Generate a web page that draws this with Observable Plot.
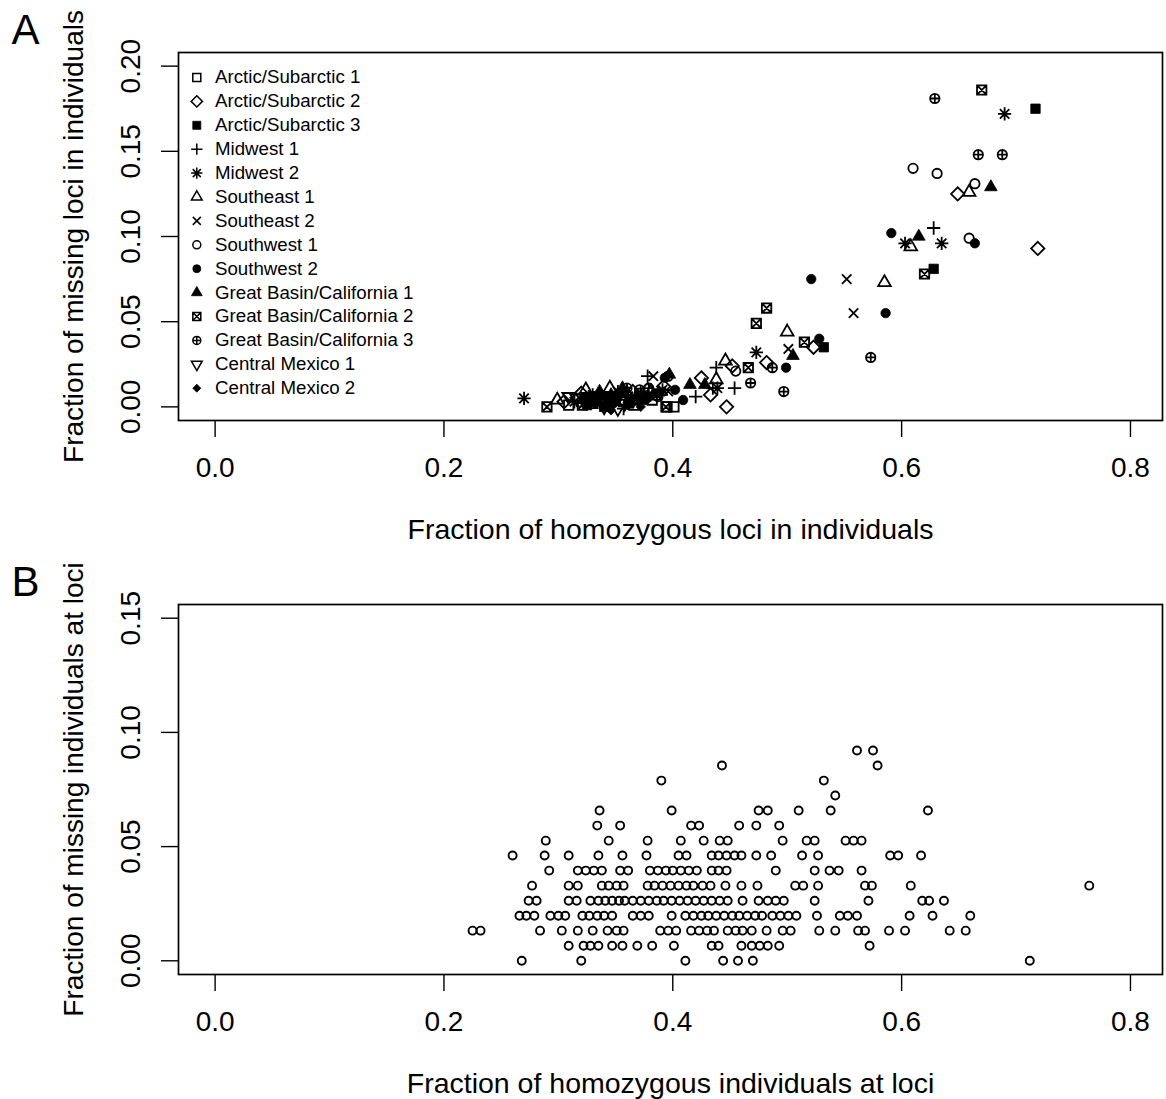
<!DOCTYPE html>
<html><head><meta charset="utf-8">
<script src="https://cdn.jsdelivr.net/npm/d3@7"></script>
<script src="https://cdn.jsdelivr.net/npm/@observablehq/plot@0.6"></script>
<style>
body{margin:0;background:#fff;}
#wrap{position:relative;width:1166px;height:1099px;background:#fff;}
.panel{position:absolute;left:0;}
</style></head><body><div id="wrap"><div id="pa" class="panel" style="top:0"></div><div id="pb" class="panel" style="top:555px"></div></div>
<script>
// ---------- Data ----------
const groupNames = ["Arctic/Subarctic 1","Arctic/Subarctic 2","Arctic/Subarctic 3","Midwest 1","Midwest 2","Southeast 1","Southeast 2","Southwest 1","Southwest 2","Great Basin/California 1","Great Basin/California 2","Great Basin/California 3","Central Mexico 1","Central Mexico 2"];
const arctic1 = [[0.395,0.000],[0.401,0.000],[0.309,0.001],[0.371,0.008],[0.330,0.002],[0.345,0.006],[0.357,0.003],[0.382,0.004],[0.318,0.005],[0.366,0.001]];
const arctic2 = [[0.649,0.125],[0.719,0.093],[0.523,0.035],[0.482,0.026],[0.452,0.024],[0.425,0.017],[0.433,0.007],[0.447,0.000],[0.305,0.003],[0.338,0.006],[0.365,0.009],[0.392,0.012],[0.320,0.008],[0.378,0.010]];
const arctic3 = [[0.717,0.175],[0.628,0.081],[0.532,0.035],[0.325,0.001],[0.350,0.005],[0.362,0.002],[0.340,0.000],[0.377,0.006],[0.333,0.004],[0.355,0.008]];
const midwest1 = [[0.628,0.105],[0.454,0.011],[0.438,0.023],[0.420,0.006],[0.435,0.011],[0.378,0.018],[0.357,-0.001],[0.345,0.002],[0.366,0.004],[0.390,0.007],[0.372,0.009]];
const midwest2 = [[0.690,0.172],[0.603,0.096],[0.635,0.096],[0.473,0.032],[0.270,0.005],[0.439,0.011],[0.330,0.007],[0.352,0.009],[0.370,0.004],[0.391,0.010],[0.314,0.003],[0.361,0.006]];
const southeast1 = [[0.659,0.126],[0.608,0.094],[0.585,0.073],[0.500,0.044],[0.446,0.027],[0.438,0.016],[0.299,0.004],[0.324,0.010],[0.345,0.011],[0.360,0.008],[0.381,0.009],[0.336,0.004]];
const southeast2 = [[0.552,0.075],[0.558,0.055],[0.501,0.034],[0.383,0.018],[0.341,0.004],[0.361,0.006],[0.396,0.009],[0.322,0.002]];
const southwest1 = [[0.610,0.140],[0.631,0.137],[0.664,0.131],[0.659,0.099],[0.455,0.021],[0.396,0.018],[0.351,0.005],[0.371,0.010],[0.331,0.003],[0.387,0.006]];
const southwest2 = [[0.591,0.102],[0.664,0.096],[0.521,0.075],[0.586,0.055],[0.528,0.040],[0.499,0.023],[0.409,0.004],[0.393,0.017],[0.341,0.006],[0.361,0.003],[0.386,0.008],[0.322,0.005],[0.402,0.010],[0.348,0.002],[0.376,0.004]];
const greatBasin1 = [[0.678,0.129],[0.615,0.100],[0.505,0.030],[0.428,0.013],[0.397,0.019],[0.346,0.007],[0.369,0.006],[0.356,0.011],[0.415,0.013],[0.336,0.009]];
const greatBasin2 = [[0.670,0.186],[0.620,0.078],[0.515,0.038],[0.482,0.058],[0.473,0.049],[0.466,0.023],[0.290,0.000],[0.386,0.007],[0.394,0.000],[0.340,0.002],[0.365,0.004],[0.321,0.001]];
const greatBasin3 = [[0.629,0.181],[0.667,0.148],[0.688,0.148],[0.573,0.029],[0.497,0.009],[0.487,0.023],[0.468,0.014],[0.360,0.011],[0.379,0.011],[0.350,0.004],[0.331,0.006]];
const centralMexico1 = [[0.309,0.006],[0.316,0.005],[0.340,0.000],[0.358,0.002],[0.331,0.004],[0.352,-0.001],[0.325,0.006]];
const centralMexico2 = [[0.346,-0.002],[0.361,0.001],[0.333,0.002],[0.372,0.000]];

// Panel B: y levels and x values of the points on each level
const bLevels = [0,0.0066,0.0132,0.0197,0.0263,0.0329,0.0395,0.0461,0.0526,0.0592,0.0658,0.0724,0.0789,0.0855,0.0921];
const bRow0 = [0.268,0.320,0.411,0.444,0.457,0.470,0.712];
const bRow1 = [0.309,0.322,0.328,0.335,0.347,0.356,0.369,0.382,0.401,0.434,0.440,0.460,0.469,0.476,0.483,0.493,0.572];
const bRow2 = [0.225,0.232,0.284,0.303,0.317,0.330,0.343,0.351,0.357,0.389,0.396,0.403,0.416,0.423,0.430,0.436,0.448,0.455,0.461,0.469,0.482,0.496,0.503,0.528,0.542,0.562,0.568,0.589,0.603,0.642,0.656];
const bRow3 = [0.266,0.272,0.279,0.293,0.300,0.306,0.321,0.327,0.334,0.340,0.347,0.365,0.372,0.379,0.399,0.411,0.418,0.425,0.431,0.438,0.445,0.452,0.458,0.465,0.472,0.478,0.487,0.494,0.501,0.508,0.526,0.546,0.553,0.561,0.607,0.627,0.660];
const bRow4 = [0.274,0.281,0.309,0.316,0.328,0.335,0.341,0.347,0.353,0.358,0.365,0.372,0.379,0.386,0.392,0.399,0.406,0.413,0.420,0.427,0.434,0.441,0.448,0.461,0.475,0.483,0.490,0.497,0.524,0.571,0.618,0.624,0.637];
const bRow5 = [0.277,0.309,0.317,0.338,0.344,0.351,0.357,0.378,0.384,0.391,0.398,0.405,0.412,0.418,0.426,0.433,0.446,0.460,0.474,0.507,0.514,0.527,0.568,0.574,0.608,0.764];
const bRow6 = [0.292,0.317,0.324,0.331,0.338,0.354,0.361,0.380,0.387,0.394,0.400,0.407,0.414,0.421,0.434,0.440,0.447,0.490,0.524,0.537,0.545,0.565];
const bRow7 = [0.260,0.288,0.309,0.335,0.356,0.377,0.405,0.412,0.434,0.440,0.447,0.454,0.460,0.473,0.486,0.513,0.527,0.590,0.597,0.617];
const bRow8 = [0.289,0.344,0.378,0.407,0.427,0.441,0.448,0.496,0.517,0.524,0.551,0.558,0.565];
const bRow9 = [0.334,0.354,0.416,0.423,0.458,0.473,0.493];
const bRow10 = [0.336,0.399,0.475,0.483,0.510,0.538,0.623];
const bRow11 = [0.542];
const bRow12 = [0.390,0.532];
const bRow13 = [0.443,0.579];
const bRow14 = [0.561,0.575];

const xTicks = [0,0.2,0.4,0.6,0.8];
const yTicksA = [0,0.05,0.10,0.15,0.20];
const yTicksB = [0,0.05,0.10,0.15];
const xTitleA = "Fraction of homozygous loci in individuals";
const yTitleA = "Fraction of missing loci in individuals";
const xTitleB = "Fraction of homozygous individuals at loci";
const yTitleB = "Fraction of missing individuals at loci";

// ---------- R-like plotting symbols ----------
const S2 = Math.SQRT2;
function mk(fn){ return {draw(c,size){ const h = Math.sqrt(size/Math.PI); fn(c,h); }}; }
const pCircle = (c,h)=>{ c.moveTo(h,0); c.arc(0,0,h,0,2*Math.PI); };
const pTimes = (c,h)=>{ c.moveTo(-h,-h); c.lineTo(h,h); c.moveTo(-h,h); c.lineTo(h,-h); };
const pPlus = (c,a)=>{ c.moveTo(-a,0); c.lineTo(a,0); c.moveTo(0,-a); c.lineTo(0,a); };
const pDiamond = (c,a)=>{ c.moveTo(0,-a); c.lineTo(a,0); c.lineTo(0,a); c.lineTo(-a,0); c.closePath(); };
const pTri = (c,h,dir)=>{ const r=1.5551*h, yc=0.7776*h, xc=1.3468*h; c.moveTo(0,-dir*r); c.lineTo(xc,dir*yc); c.lineTo(-xc,dir*yc); c.closePath(); };
const symbols = [
  mk((c,h)=>c.rect(-h,-h,2*h,2*h)),                 // 0 open square
  mk((c,h)=>pDiamond(c,S2*h)),                      // 5 open diamond
  mk((c,h)=>c.rect(-h,-h,2*h,2*h)),                 // 15 filled square
  mk((c,h)=>pPlus(c,S2*h)),                         // 3 plus
  mk((c,h)=>{ pTimes(c,h); pPlus(c,S2*h); }),        // 8 asterisk
  mk((c,h)=>pTri(c,h,1)),                           // 2 triangle
  mk((c,h)=>pTimes(c,h)),                           // 4 times
  mk(pCircle),                                      // 1 circle
  mk(pCircle),                                      // 16 filled circle
  mk((c,h)=>pTri(c,h,1)),                           // 17 filled triangle
  mk((c,h)=>{ c.rect(-h,-h,2*h,2*h); pTimes(c,h); }),// 7 square times
  mk((c,h)=>{ pCircle(c,h); pPlus(c,h); }),          // 10 circle plus
  mk((c,h)=>pTri(c,h,-1)),                          // 6 down triangle
  mk((c,h)=>pDiamond(c,h))                          // 18 filled diamond
];
const filled = [false,false,true,false,false,false,false,false,true,true,false,false,false,true];
const groupData = [arctic1,arctic2,arctic3,midwest1,midwest2,southeast1,southeast2,southwest1,southwest2,greatBasin1,greatBasin2,greatBasin3,centralMexico1,centralMexico2];
const styleOf = (i,w) => filled[i] ? {fill:"black", stroke:"black", strokeWidth:0.8} : {fill:"none", stroke:"black", strokeWidth:w};

const font = '"Liberation Sans", Arial, Helvetica, sans-serif';
const TICK_FS = 28, TITLE_FS = 28.5;

function commonMarks(yTicks, xTitle, yTitle, letter){
  return [
    Plot.axisX({ticks:xTicks, tickFormat:d3.format(".1f"), tickSize:17, tickPadding:20, fontSize:TICK_FS, label:null, strokeWidth:1.4}),
    Plot.axisY({ticks:yTicks, tickFormat:d3.format(".2f"), tickSize:17, tickRotate:-90, tickPadding:22, fontSize:TICK_FS, label:null, strokeWidth:1.4}),
    Plot.text([xTitle], {frameAnchor:"bottom", dy:109, text:d=>d, fontSize:TITLE_FS, textAnchor:"middle", lineAnchor:"middle"}),
    Plot.text([yTitle], {frameAnchor:"left", dx:-104, rotate:-90, text:d=>d, fontSize:28, textAnchor:"middle", lineAnchor:"middle"}),
    Plot.text([letter], {frameAnchor:"top-left", dx:-167, dy:-9, text:d=>d, fontSize:42, textAnchor:"start", lineAnchor:"bottom"}),
    Plot.frame({stroke:"black", strokeWidth:1.7})
  ];
}

// ---------- Panel A ----------
const legendMarks = groupNames.flatMap((g,i)=>[
  Plot.dot([g], {frameAnchor:"top-left", dx:18.3, dy:25+i*23.9, symbol:symbols[i], r:4.0, ...styleOf(i,1.5)}),
  Plot.text([g], {frameAnchor:"top-left", dx:36.5, dy:25+i*23.9, text:d=>d, textAnchor:"start", lineAnchor:"middle", fontSize:18.7})
]);
const pointMarks = groupData.map((data,i)=>Plot.dot(data, {x:d=>d[0], y:d=>d[1], symbol:symbols[i], r:4.7, ...styleOf(i,1.8)}));

const plotA = Plot.plot({
  width:1166, height:555,
  marginLeft:178, marginRight:4, marginTop:52, marginBottom:135,
  x:{domain:[-0.032,0.828]}, y:{domain:[-0.008,0.208]},
  style:{fontFamily:font, background:"white", color:"black", overflow:"visible"},
  marks:[...commonMarks(yTicksA, xTitleA, yTitleA, "A"), ...pointMarks, ...legendMarks]
});
document.getElementById("pa").appendChild(plotA);

// ---------- Panel B ----------
const bRows = [bRow0,bRow1,bRow2,bRow3,bRow4,bRow5,bRow6,bRow7,bRow8,bRow9,bRow10,bRow11,bRow12,bRow13,bRow14];
const bPoints = bRows.flatMap((xs,k)=>xs.map(x=>({x, y:bLevels[k]})));
const plotB = Plot.plot({
  width:1166, height:544,
  marginLeft:178, marginRight:4, marginTop:49, marginBottom:125,
  x:{domain:[-0.032,0.828]}, y:{domain:[-0.006,0.156]},
  style:{fontFamily:font, background:"white", color:"black", overflow:"visible"},
  marks:[...commonMarks(yTicksB, xTitleB, yTitleB, "B"),
    Plot.dot(bPoints, {x:"x", y:"y", symbol:symbols[7], r:4.0, fill:"none", stroke:"black", strokeWidth:1.9})]
});
document.getElementById("pb").appendChild(plotB);
</script></body></html>
